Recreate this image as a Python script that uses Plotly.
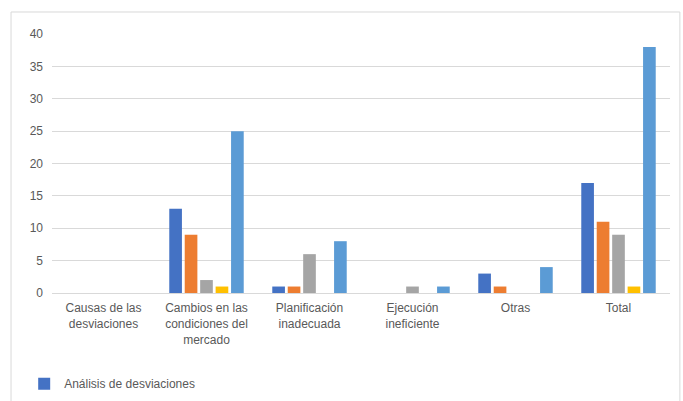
import plotly.graph_objects as go

categories = ["Causas de las<br>desviaciones", "Cambios en las<br>condiciones del<br>mercado",
              "Planificación<br>inadecuada", "Ejecución<br>ineficiente", "Otras", "Total"]
series_names = ["Análisis de desviaciones", "Serie 2", "Serie 3", "Serie 4", "Serie 5"]
s1 = [0, 13, 1, 0, 3, 17]
s2 = [0, 9, 1, 0, 1, 11]
s3 = [0, 2, 6, 1, 0, 9]
s4 = [0, 1, 0, 0, 0, 1]
s5 = [0, 25, 8, 1, 4, 38]
colors = ["#4472C4", "#ED7D31", "#A5A5A5", "#FFC000", "#5B9BD5"]
y_ticks = [0, 5, 10, 15, 20, 25, 30, 35, 40]

fig = go.Figure()
for i, (name, vals) in enumerate(zip(series_names, [s1, s2, s3, s4, s5])):
    fig.add_trace(go.Bar(x=categories, y=vals, name=name, marker_color=colors[i],
                         marker_line_width=0, showlegend=(i == 0)))

fig.update_layout(
    width=683, height=401,
    margin=dict(l=52, r=13, t=34, b=108, autoexpand=False),
    paper_bgcolor="white", plot_bgcolor="white",
    barmode="group", bargap=0.25, bargroupgap=0.18,
    font=dict(family="Liberation Sans, Arial, sans-serif", size=12, color="#595959"),
    xaxis=dict(showgrid=False, showline=True, linecolor="#d9d9d9", linewidth=1,
               tickfont=dict(size=12, color="#595959"), ticks="outside", ticklen=4,
               tickcolor="rgba(0,0,0,0)", automargin=False),
    yaxis=dict(range=[0, 40], tickvals=y_ticks, showgrid=True, gridcolor="#d9d9d9",
               gridwidth=1, zeroline=False, showline=False, automargin=False,
               tickfont=dict(size=12, color="#595959"), ticklabelstandoff=8),
    legend=dict(x=-0.045, y=-0.35, xanchor="left", yanchor="middle", itemwidth=30,
                font=dict(size=12, color="#595959"), bgcolor="rgba(0,0,0,0)"),
    shapes=[dict(type="rect", xref="paper", yref="paper", x0=-0.0663, x1=1.016,
                 y0=-0.45, y1=1.085, line=dict(color="#d9d9d9", width=1),
                 fillcolor="rgba(0,0,0,0)", layer="below")],
)

fig.write_html("out.html")
